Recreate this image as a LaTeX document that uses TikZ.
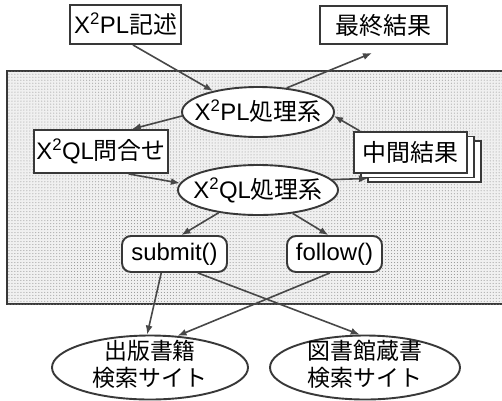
\documentclass[tikz,border=0pt]{standalone}
\usepackage{fontspec}
\setmainfont{Liberation Sans}
\newfontfamily\jp{Noto Sans CJK JP}
\usetikzlibrary{arrows.meta,shapes.geometric,patterns}
\newcommand\zb[1]{\raisebox{-0.36em}[0pt][0pt]{\makebox[0pt]{#1}}}
\newcommand\zbb[1]{\raisebox{-0.25em}[0pt][0pt]{\makebox[0pt]{\begin{tabular}{@{}c@{}}#1\end{tabular}}}}
\begin{document}
\begin{tikzpicture}[x=1bp,y=-1bp,
  frame/.style={draw=black!78, line width=1.9bp},
  txt/.style={font=\fontsize{24}{28}\selectfont},
  box/.style={frame, fill=white, rectangle, inner sep=0pt, txt},
  rbox/.style={box, rounded corners=9bp},
  ell/.style={frame, fill=white, ellipse, inner sep=0pt, txt},
  site/.style={ell, font=\fontsize{23}{26}\selectfont},
  arr/.style={draw=black!72, line width=1.6bp, -{Latex[length=9bp,width=7bp]}}
]
\useasboundingbox (0,0) rectangle (502,400);
\fill[white] (0,0) rectangle (502,400);
% shaded system region
\draw[draw=black!78, line width=2.4bp, fill=black!6,
      postaction={pattern=dots, pattern color=black!45}] (7,71) rectangle (506,304);

\node[box, minimum width=111bp, minimum height=39bp] (plk) at (125.5,24.5) {X\textsuperscript{2}PL{\jp 記述}};
\node[box, minimum width=127bp, minimum height=38bp] (fin) at (383.5,25) {{\jp 最終結果}};
\coordinate (finarr) at (372,53);

\node[ell, minimum width=152bp, minimum height=50bp] (plproc) at (258,112) {\zb{X\textsuperscript{2}PL{\jp 処理系}}};
\node[box, minimum width=134bp, minimum height=43bp] (qlq) at (101,151.5) {X\textsuperscript{2}QL{\jp 問合せ}};

\node[box, minimum width=113bp, minimum height=41bp] (mid3) at (424.5,161.5) {};
\node[box, minimum width=113bp, minimum height=41bp] (mid2) at (417.5,157) {};
\node[box, minimum width=113bp, minimum height=41bp] (mid) at (410.5,152.5) {{\jp 中間結果}};

\node[ell, minimum width=160bp, minimum height=50bp] (qlproc) at (258,190) {\zb{X\textsuperscript{2}QL{\jp 処理系}}};

\node[rbox, minimum width=105bp, minimum height=36bp] (sub) at (174.5,254) {submit()};
\node[rbox, minimum width=95bp, minimum height=36bp] (fol) at (334.5,254) {follow()};

\node[site, minimum width=196bp, minimum height=64bp] (s1) at (150,367.5) {\zbb{\jp 出版書籍\\\jp 検索サイト}};
\node[site, minimum width=190bp, minimum height=64bp] (s2) at (365,367.5) {\zbb{\jp 図書館蔵書\\\jp 検索サイト}};

\draw[arr] (plk.290) -- (plproc.155);
\draw[arr] (plproc.40) -- (finarr);
\draw[arr] (plproc.183) -- (qlq.36);
\draw[arr] (qlq.321) -- (qlproc.175);
\draw[arr] (qlproc.8) -- ([xshift=8bp]mid2.south west);
\draw[arr] (mid.157) -- (plproc.357);
\draw[arr] (qlproc.210) -- (sub.70);
\draw[arr] (qlproc.326) -- (fol.108);
\draw[arr] (sub.235) -- (s1.95);
\draw[arr] (sub.321) -- (s2.99);
\draw[arr] (fol.256) -- (s1.49);
\end{tikzpicture}
\end{document}
